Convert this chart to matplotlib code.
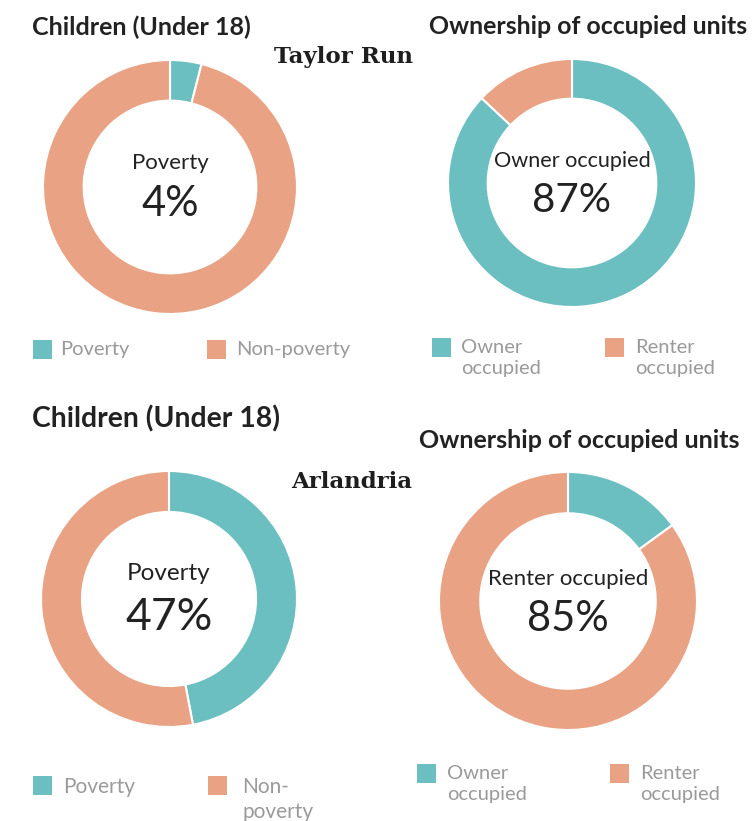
import matplotlib
matplotlib.use("Agg")
import matplotlib.pyplot as plt
from matplotlib.patches import Rectangle

W, H = 755, 821
DPI = 100

# ---------------- data ----------------
teal = "#6cbfc1"
salmon = "#e9a283"

tr_child_labels = ["Poverty", "Non-poverty"]
tr_child_values = [4, 96]
tr_own_labels = ["Owner\noccupied", "Renter\noccupied"]
tr_own_values = [87, 13]
ar_child_labels = ["Poverty", "Non-\npoverty"]
ar_child_values = [47, 53]
ar_own_labels = ["Owner\noccupied", "Renter\noccupied"]
ar_own_values = [15, 85]

titles = ["Children (Under 18)", "Ownership of occupied units",
          "Children (Under 18)", "Ownership of occupied units"]
center_names = ["Poverty", "Owner occupied", "Poverty", "Renter occupied"]
center_values = ["4%", "87%", "47%", "85%"]
places = ["Taylor Run", "Arlandria"]

# ---------------- helpers ----------------
def fx(x):
    return x / W

def fy(y):
    return 1 - y / H

fig = plt.figure(figsize=(W / DPI, H / DPI), dpi=DPI)
fig.patch.set_facecolor("white")

SANS = ["Lato", "DejaVu Sans"]
dark = "#222222"
grey = "#9a9a9a"

panels = [
    dict(values=tr_child_values, labels=tr_child_labels, title=titles[0], tpos=(32, 27), tsize=18,
         cx=170, cy=187, r=127, name=center_names[0], val=center_values[0], ny=163, vy=204,
         nsize=16, vsize=30, leg_x=[33, 207], leg_y=340, leg_tx=[60, 236], lsize=14.5),
    dict(values=tr_own_values, labels=tr_own_labels, title=titles[1], tpos=(429, 26), tsize=17.9,
         cx=572, cy=183, r=124, name=center_names[1], val=center_values[1], ny=161, vy=201,
         nsize=15.6, vsize=29, leg_x=[432, 605], leg_y=338, leg_tx=[461, 635], lsize=14.5),
    dict(values=ar_child_values, labels=ar_child_labels, title=titles[2], tpos=(32, 419), tsize=20.4,
         cx=169, cy=599, r=128, name=center_names[2], val=center_values[2], ny=574, vy=618,
         nsize=17.5, vsize=32, leg_x=[33, 208], leg_y=776, leg_tx=[63, 242], lsize=15),
    dict(values=ar_own_values, labels=ar_own_labels, title=titles[3], tpos=(419, 440), tsize=18,
         cx=568, cy=601, r=129, name=center_names[3], val=center_values[3], ny=579, vy=619,
         nsize=16, vsize=30, leg_x=[417, 610], leg_y=764, leg_tx=[447, 640], lsize=14.5),
]

for p in panels:
    r = p["r"]
    ax = fig.add_axes([fx(p["cx"] - r), fy(p["cy"] + r), 2 * r / W, 2 * r / H])
    wedges, _ = ax.pie(p["values"], colors=[teal, salmon], startangle=90, counterclock=False,
                       radius=1.0, wedgeprops=dict(width=0.32, edgecolor="white", linewidth=1.5))
    ax.set_xlim(-1.0, 1.0)
    ax.set_ylim(-1.0, 1.0)
    ax.set_aspect("auto")
    ax.axis("off")

    fig.text(fx(p["tpos"][0]), fy(p["tpos"][1]), p["title"], family=SANS, weight="bold",
             fontsize=p["tsize"], color=dark, ha="left", va="center")
    fig.text(fx(p["cx"]), fy(p["ny"]), p["name"], family=SANS, fontsize=p["nsize"],
             color=dark, ha="center", va="center")
    fig.text(fx(p["cx"]), fy(p["vy"]), p["val"], family=SANS, fontsize=p["vsize"],
             color=dark, ha="center", va="center")

    for i, (lab, col) in enumerate(zip(p["labels"], [teal, salmon])):
        sq = 19
        fig.patches.append(Rectangle((fx(p["leg_x"][i]), fy(p["leg_y"] + sq)), sq / W, sq / H,
                                     transform=fig.transFigure, facecolor=col, edgecolor="none"))
        fig.text(fx(p["leg_tx"][i]), fy(p["leg_y"] + 1), lab, family=SANS, fontsize=p["lsize"],
                 color=grey, ha="left", va="top", linespacing=1.3)

fig.text(fx(344), fy(57), places[0], family=["DejaVu Serif"], weight="bold", fontsize=16.5,
         color="#1e1e1e", ha="center", va="center")
fig.text(fx(352), fy(482), places[1], family=["DejaVu Serif"], weight="bold", fontsize=16.5,
         color="#1e1e1e", ha="center", va="center")

fig.savefig("out.png", dpi=DPI, facecolor="white")
